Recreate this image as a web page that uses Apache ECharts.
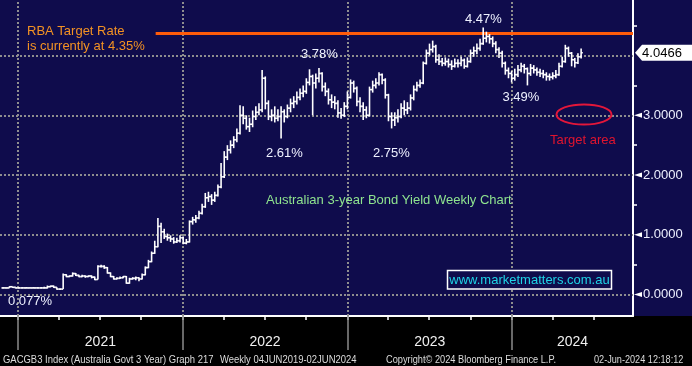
<!DOCTYPE html>
<html><head><meta charset="utf-8">
<script src="https://cdn.jsdelivr.net/npm/echarts@6/dist/echarts.min.js"></script>
<style>html,body{margin:0;padding:0;background:#000;}#c{width:692px;height:366px;}</style>
</head><body><div id="c"></div>
<script>
// ---- data (weekly bars, Sunday-dated, starting 29 Nov 2020) ----
const firstWeek = '2020-11-29';
const openV = [
0.11,0.11,0.11,0.13,0.12,0.11,0.11,0.11,0.11,0.11,0.11,0.11,0.11,0.11,0.11,0.13,0.14,0.12,0.09,
0.09,0.33,0.30,0.31,0.35,0.32,0.30,0.31,0.30,0.31,0.29,
0.25,0.47,0.47,0.45,0.36,0.30,0.26,0.27,0.28,0.30,
0.19,0.26,0.27,0.28,0.26,0.33,0.45,0.55,0.69,0.80,
1.14,1.05,0.97,0.95,0.93,0.88,0.90,0.95,0.86,0.88,
1.22,1.25,1.28,1.36,1.47,1.62,1.64,1.58,1.66,1.80,
1.97,2.30,2.42,2.50,2.59,2.70,3.00,2.95,2.81,2.85,
2.98,3.05,3.09,3.62,3.20,2.98,3.00,2.95,2.98,3.06,
2.98,3.12,3.20,3.23,3.30,3.37,3.40,3.55,3.65,3.54,
3.62,3.70,3.48,3.40,3.26,3.22,3.20,3.04,3.00,3.15,
3.30,3.54,3.45,3.23,3.15,3.09,3.00,3.43,3.50,3.54,
3.68,3.59,3.34,2.98,2.92,2.96,2.98,3.12,3.09,3.12,
3.29,3.43,3.50,3.54,3.87,4.04,4.10,4.15,3.93,3.90,
3.87,3.90,3.85,3.82,3.87,3.87,3.92,3.82,3.90,4.04,
4.08,4.12,4.20,4.29,4.32,4.28,4.20,4.10,4.04,3.87,
3.75,3.70,3.62,3.68,3.76,3.82,3.78,3.70,3.79,3.76,
3.72,3.70,3.68,3.65,3.64,3.66,3.68,3.82,3.90,4.12,
4.04,3.93,3.88,3.98];
const highV = [
0.12,0.12,0.14,0.13,0.12,0.12,0.12,0.12,0.12,0.12,0.12,0.12,0.12,0.13,0.15,0.15,0.15,0.12,0.10,
0.35,0.34,0.32,0.37,0.36,0.33,0.33,0.32,0.32,0.32,0.30,
0.49,0.50,0.49,0.46,0.37,0.31,0.29,0.30,0.31,0.31,
0.28,0.29,0.30,0.29,0.35,0.47,0.58,0.72,0.90,1.28,
1.20,1.10,1.02,0.99,0.96,0.95,0.99,0.97,0.93,1.24,
1.30,1.33,1.40,1.52,1.70,1.72,1.68,1.72,1.84,2.20,
2.40,2.50,2.58,2.65,2.78,3.17,3.15,3.00,2.96,3.08,
3.15,3.20,3.76,3.65,3.25,3.10,3.15,3.10,3.15,3.10,
3.18,3.28,3.32,3.40,3.45,3.50,3.62,3.77,3.68,3.70,
3.79,3.72,3.55,3.45,3.35,3.32,3.25,3.12,3.22,3.40,
3.60,3.58,3.48,3.30,3.22,3.15,3.48,3.58,3.62,3.72,
3.70,3.62,3.36,3.05,3.05,3.10,3.20,3.25,3.22,3.35,
3.50,3.56,3.60,3.90,4.10,4.20,4.25,4.18,4.02,3.96,
3.97,3.95,3.92,3.95,3.94,3.98,3.95,3.97,4.10,4.15,
4.20,4.28,4.47,4.40,4.36,4.32,4.24,4.14,4.08,3.90,
3.80,3.74,3.78,3.84,3.88,3.86,3.80,3.86,3.84,3.80,
3.78,3.76,3.72,3.70,3.72,3.76,3.88,3.98,4.18,4.15,
4.06,3.96,4.04,4.12];
const lowV = [
0.10,0.10,0.11,0.11,0.10,0.10,0.10,0.10,0.10,0.10,0.10,0.10,0.10,0.10,0.10,0.12,0.11,0.08,0.077,
0.09,0.29,0.29,0.30,0.31,0.29,0.29,0.28,0.29,0.27,0.24,
0.25,0.45,0.43,0.35,0.29,0.25,0.25,0.26,0.27,0.18,
0.18,0.25,0.24,0.22,0.25,0.32,0.44,0.54,0.68,0.79,
0.86,0.93,0.90,0.88,0.85,0.86,0.87,0.84,0.84,0.87,
1.17,1.20,1.26,1.34,1.45,1.55,1.50,1.55,1.64,1.78,
1.95,2.25,2.36,2.45,2.55,2.68,2.85,2.76,2.72,2.80,
2.92,3.00,3.05,3.10,2.92,2.90,2.88,2.90,2.61,2.88,
2.95,3.05,3.12,3.18,3.25,3.30,3.36,3.50,3.00,3.45,
3.55,3.40,3.32,3.18,3.12,3.10,2.96,2.94,2.97,3.10,
3.28,3.38,3.15,3.05,2.92,2.95,2.98,3.38,3.45,3.50,
3.52,3.28,2.90,2.78,2.82,2.88,2.95,3.00,3.02,3.08,
3.25,3.40,3.46,3.52,3.85,4.00,4.05,3.88,3.84,3.82,
3.83,3.80,3.76,3.80,3.80,3.82,3.78,3.80,3.88,3.98,
4.02,4.08,4.18,4.22,4.20,4.14,4.04,3.96,3.80,3.68,
3.62,3.55,3.58,3.64,3.72,3.70,3.50,3.66,3.70,3.66,
3.64,3.62,3.58,3.58,3.60,3.62,3.66,3.80,3.88,3.98,
3.82,3.80,3.86,3.95];
const closeV = [
0.11,0.11,0.13,0.12,0.11,0.11,0.11,0.11,0.11,0.11,0.11,0.11,0.11,0.11,0.13,0.14,0.12,0.09,0.09,
0.33,0.30,0.31,0.35,0.32,0.30,0.31,0.30,0.31,0.29,0.25,
0.47,0.47,0.45,0.36,0.30,0.26,0.27,0.28,0.30,0.19,
0.26,0.27,0.28,0.26,0.33,0.45,0.55,0.69,0.80,1.14,
1.05,0.97,0.95,0.93,0.88,0.90,0.95,0.86,0.88,1.22,
1.25,1.28,1.36,1.47,1.62,1.64,1.58,1.66,1.80,1.97,
2.30,2.42,2.50,2.59,2.70,3.00,2.95,2.81,2.85,2.98,
3.05,3.09,3.62,3.20,2.98,3.00,2.95,2.98,3.06,2.98,
3.12,3.20,3.23,3.30,3.37,3.40,3.55,3.65,3.54,3.62,
3.70,3.48,3.40,3.26,3.22,3.20,3.04,3.00,3.15,3.30,
3.54,3.45,3.23,3.15,3.09,3.00,3.43,3.50,3.54,3.68,
3.59,3.34,2.98,2.92,2.96,2.98,3.12,3.09,3.12,3.29,
3.43,3.50,3.54,3.87,4.04,4.10,4.15,3.93,3.90,3.87,
3.90,3.85,3.82,3.87,3.87,3.92,3.82,3.90,4.04,4.08,
4.12,4.20,4.29,4.32,4.28,4.20,4.10,4.04,3.87,3.75,
3.70,3.62,3.68,3.76,3.82,3.78,3.70,3.79,3.76,3.72,
3.70,3.68,3.65,3.64,3.66,3.68,3.82,3.90,4.12,4.04,
3.93,3.88,3.98,4.0466];
const rbaTargetRate = 4.37;
const rbaLineStart = '2021-11-02';
const yLabelValues = [0, 1, 2, 3];
const yMinorTicks = [0.5, 1.5, 2.5, 3.5, 4.5];
const yearStarts = ['2021-01-01','2022-01-01','2023-01-01','2024-01-01'];
const axisRange = ['2020-11-22', '2024-09-25'];

// ---- build ----
const DAY = 864e5;
const t0 = Date.parse(firstWeek);
const xMin = Date.parse(axisRange[0]);
const xMax = Date.parse(axisRange[1]);
const ohlc = closeV.map((c, i) => [t0 + i * 7 * DAY, openV[i], highV[i], lowV[i], c]);
const lastValue = closeV[closeV.length - 1];
const yearStartMs = yearStarts.map(Date.parse);
const quarterTicks = [];
yearStartMs.forEach(ys => {
  const y = new Date(ys).getUTCFullYear();
  [0, 3, 6, 9].forEach(m => { const t = Date.UTC(y, m, 1); if (t <= xMax) quarterTicks.push(t); });
});
const yearLabelPos = yearStartMs.map((ys, i) => {
  const start = Math.max(ys, xMin);
  const end = i + 1 < yearStartMs.length ? yearStartMs[i + 1] : xMax;
  return (start + Math.min(end, xMax)) / 2;
});

const FONT = '"Liberation Sans", Arial, sans-serif';
const NAVY = '#0f0c4c';
const GRIDC = '#8e8e8e';
const chart = echarts.init(document.getElementById('c'), null, {renderer: 'canvas'});

const dotted = {color: GRIDC, width: 2, type: [2, 2]};
const gridLines = [];
[0, 1, 2, 3, 4].forEach(v => gridLines.push({yAxis: v, lineStyle: dotted}));
yearStartMs.forEach(t => gridLines.push({xAxis: t, lineStyle: dotted}));
gridLines.push([
  {coord: [Date.parse(rbaLineStart), rbaTargetRate], lineStyle: {color: '#ff5c0a', width: 3, type: 'solid'}},
  {coord: [xMax, rbaTargetRate]}
]);

const arrowPts = yLabelValues.map(v => ({
  coord: [xMax, v], symbol: 'path://M0,5 L10,0 L10,10 Z', symbolSize: [8, 5], symbolOffset: [5, 0],
  itemStyle: {color: '#ffffff'}, label: {show: false}
}));
arrowPts.push({
  coord: [xMax, lastValue], symbol: 'path://M0,8 L7,0 L62,0 L62,16 L7,16 Z', symbolSize: [62, 16],
  symbolOffset: [33, 0], itemStyle: {color: '#ffffff'},
  label: {show: true, position: 'inside', offset: [-4, 1], formatter: () => lastValue.toFixed(4),
    color: '#000', fontSize: 13, fontFamily: FONT}
});

function txt(text, x, y, color, size, align, sx) {
  return {type: 'text', x: x, y: y, z: 50, silent: true, scaleX: sx || 1,
    style: {text: text, fill: color, font: (size || 13) + 'px ' + FONT, align: align || 'left', verticalAlign: 'middle'}};
}
const WHITE_T = '#eef1ff';
const FOOT = '#dcdcdc';

const option = {
  animation: false,
  backgroundColor: new echarts.graphic.LinearGradient(0, 0, 0, 1, [
    {offset: 0, color: NAVY}, {offset: 316 / 366, color: NAVY},
    {offset: 316 / 366, color: '#000'}, {offset: 1, color: '#000'}]),
  grid: {left: 0, right: 59, top: 0, bottom: 50, containLabel: false, outerBoundsMode: 'none'},
  xAxis: [{
    type: 'value', min: xMin, max: xMax, position: 'bottom',
    axisLine: {show: true, onZero: false, lineStyle: {color: '#ffffff', width: 2}},
    axisTick: {show: true, customValues: quarterTicks, length: 4, lineStyle: {color: '#ffffff', width: 1.5}},
    axisLabel: {customValues: yearLabelPos, formatter: v => String(new Date(v).getUTCFullYear()),
      color: '#f0f0f0', fontSize: 14, fontFamily: FONT, margin: 19},
    splitLine: {show: false}
  }, {
    type: 'value', min: xMin, max: xMax, position: 'bottom', gridIndex: 0,
    axisLine: {show: false, onZero: false},
    axisTick: {show: true, customValues: yearStartMs, length: 34, lineStyle: {color: '#8a8a8a', width: 1.5}},
    axisLabel: {show: false, customValues: yearStartMs},
    splitLine: {show: false}
  }],
  yAxis: {
    type: 'value', position: 'right', min: -0.36, max: 4.93,
    axisLine: {show: true, onZero: false, lineStyle: {color: '#ffffff', width: 2}},
    axisTick: {show: true, customValues: yMinorTicks, length: 4, lineStyle: {color: '#ffffff', width: 1.5}},
    axisLabel: {customValues: yLabelValues, formatter: v => Number(v).toFixed(4), margin: 10,
      color: WHITE_T, fontSize: 13, fontFamily: FONT},
    splitLine: {show: false}
  },
  series: [{
    type: 'line', data: [], z: 1, silent: true,
    markLine: {silent: true, symbol: 'none', label: {show: false}, data: gridLines, animation: false}
  }, {
    type: 'custom', z: 5, silent: true, clip: false,
    data: ohlc, encode: {x: 0, y: [1, 2, 3, 4]},
    renderItem: (params, api) => {
      const t = api.value(0);
      const pH = api.coord([t, api.value(2)]);
      const pL = api.coord([t, api.value(3)]);
      const pO = api.coord([t, api.value(1)]);
      const pC = api.coord([t, api.value(4)]);
      const st = {stroke: '#ffffff', lineWidth: 1.6};
      return {type: 'group', children: [
        {type: 'line', shape: {x1: pH[0], y1: pH[1] , x2: pL[0], y2: pL[1]}, style: st},
        {type: 'line', shape: {x1: pO[0] - 1.7, y1: pO[1], x2: pO[0], y2: pO[1]}, style: st},
        {type: 'line', shape: {x1: pC[0], y1: pC[1], x2: pC[0] + 1.7, y2: pC[1]}, style: st}
      ]};
    }
  }, {
    type: 'line', data: [], z: 10, silent: true,
    markPoint: {silent: true, data: arrowPts, animation: false}
  }],
  graphic: {elements: [
    txt('RBA Target Rate', 27, 31, '#f39223'),
    txt('is currently at 4.35%', 27, 46, '#f39223'),
    txt('4.47%', 465, 19.5, WHITE_T),
    txt('3.78%', 301, 54.5, WHITE_T),
    txt('3.49%', 502.5, 97, WHITE_T),
    txt('2.61%', 266, 153, WHITE_T),
    txt('2.75%', 373, 153, WHITE_T),
    txt('0.077%', 8, 301, WHITE_T),
    txt('Target area', 550, 140.5, '#e0142e'),
    {type: 'ellipse', z: 50, silent: true, shape: {cx: 584, cy: 114.5, rx: 27.5, ry: 10},
      style: {fill: 'none', stroke: '#e3173a', lineWidth: 2}},
    txt('Australian 3-year Bond Yield Weekly Chart', 266, 200.5, '#8fe48f'),
    {type: 'rect', z: 49, silent: true, shape: {x: 447.5, y: 270.5, width: 164, height: 18.5},
      style: {fill: NAVY, stroke: '#ffffff', lineWidth: 1.5}},
    txt('www.marketmatters.com.au', 529.5, 280.5, '#1fd3e6', 13, 'center'),
    txt('GACGB3 Index (Australia Govt 3 Year) Graph 217', 3, 359.5, FOOT, 11, 'left', 0.86),
    txt('Weekly 04JUN2019-02JUN2024', 220, 359.5, FOOT, 11, 'left', 0.86),
    txt('Copyright\u00a9 2024 Bloomberg Finance L.P.', 386, 359.5, FOOT, 11, 'left', 0.84),
    txt('02-Jun-2024 12:18:12', 594, 359.5, FOOT, 11, 'left', 0.83)
  ]}
};
chart.setOption(option);
</script>
</body></html>
